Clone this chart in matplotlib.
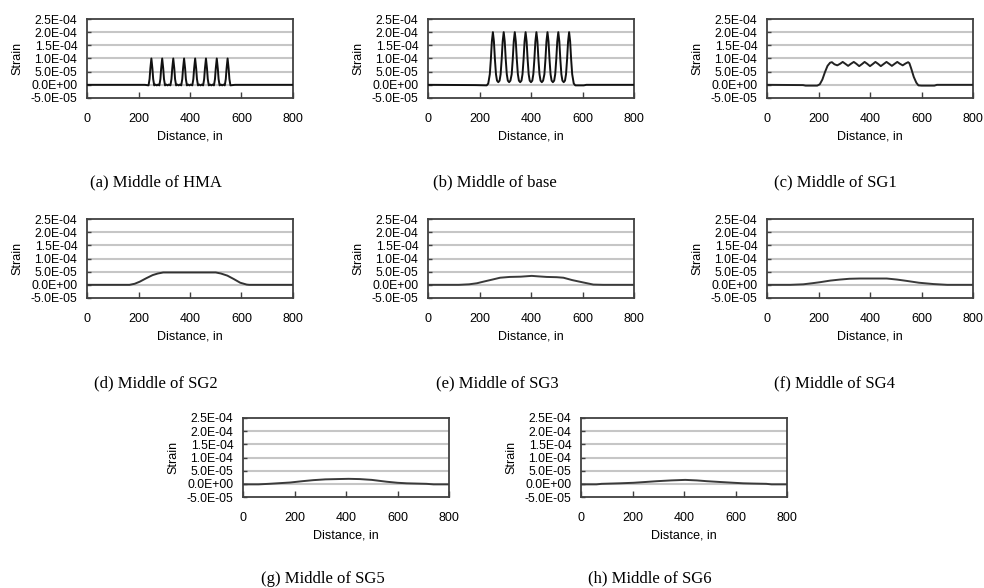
import matplotlib
matplotlib.use("Agg")
import matplotlib.pyplot as plt

# ---------------- data (strain in microstrain, distance in inches) ----------------
x_hma = [0, 225, 232,
         239, 243, 246, 250, 254, 257, 261, 266, 271, 276,
         281, 285, 288, 292, 296, 299, 303, 308, 313, 318,
         324, 328, 331, 335, 339, 342, 346, 351, 356, 361,
         366, 370, 373, 377, 381, 384, 388, 393, 398, 403,
         409, 413, 416, 420, 424, 427, 431, 436, 441, 446,
         451, 455, 458, 462, 466, 469, 473, 478, 483, 488,
         493, 497, 500, 504, 508, 511, 515, 520, 525, 530,
         535, 539, 542, 546, 550, 553, 557, 565, 575, 800]
y_hma = [0, 0, -1,
         -2, 22, 62, 100, 62, 22, -2, 1, -2, 1,
         -2, 22, 62, 100, 62, 22, -2, 1, -2, 1,
         -2, 22, 62, 100, 62, 22, -2, 1, -2, 1,
         -2, 22, 62, 100, 62, 22, -2, 1, -2, 1,
         -2, 22, 62, 100, 62, 22, -2, 1, -2, 1,
         -2, 22, 62, 100, 62, 22, -2, 1, -2, 1,
         -2, 22, 62, 100, 62, 22, -2, 1, -2, 1,
         -2, 22, 62, 100, 62, 22, -2, -1, 0, 0]

x_base = [0, 185, 228, 234,
          240, 244, 248, 252, 256, 260, 264, 268, 273, 278,
          282, 286, 290, 294, 298, 302, 306, 310, 315, 320,
          325, 329, 333, 337, 341, 345, 349, 353, 358, 363,
          367, 371, 375, 379, 383, 387, 391, 395, 400, 405,
          409, 413, 417, 421, 425, 429, 433, 437, 442, 447,
          452, 456, 460, 464, 468, 472, 476, 480, 485, 490,
          494, 498, 502, 506, 510, 514, 518, 522, 527, 532,
          536, 540, 544, 548, 552, 556, 560, 566, 572, 605, 615, 800]
y_base = [0, -1, -2, 5,
          40, 95, 165, 200, 165, 95, 40, 16, 10, 16,
          40, 95, 165, 200, 165, 95, 40, 16, 10, 16,
          40, 95, 165, 200, 165, 95, 40, 16, 10, 16,
          40, 95, 165, 200, 165, 95, 40, 16, 10, 16,
          40, 95, 165, 200, 165, 95, 40, 16, 10, 16,
          40, 95, 165, 200, 165, 95, 40, 16, 10, 16,
          40, 95, 165, 200, 165, 95, 40, 16, 10, 16,
          40, 95, 165, 200, 165, 95, 40, 5, -2, -2, 0, 0]

x_sg1 = [0, 140, 150, 195, 205, 215, 225, 235, 245, 252, 262, 273, 284, 294, 304,
         315, 326, 337, 347, 358, 369, 379, 389, 400, 411, 421, 431, 442, 453, 464,
         474, 485, 496, 506, 516, 527, 538, 548, 553, 560, 570, 580, 588, 600, 650, 660, 800]
y_sg1 = [0, -1, -3, -3, 2, 20, 48, 72, 84, 86, 78, 74, 80, 87, 80,
         72, 80, 87, 80, 71, 79, 87, 80, 71, 79, 87, 80, 71, 79, 87,
         80, 72, 80, 87, 80, 74, 81, 86, 82, 62, 30, 8, -2, -3, -3, 0, 0]

x_sg2 = [0, 165, 185, 205, 230, 255, 275, 296, 500, 520, 545, 570, 595, 620, 630, 800]
y_sg2 = [0, 0, 4, 12, 25, 37, 43, 47, 47, 43, 35, 22, 8, 1, 0, 0]

x_sg3 = [0, 120, 160, 190, 215, 250, 280, 317, 360, 403, 430, 461, 500, 526, 560, 603, 642, 680, 800]
y_sg3 = [0, 0, 2, 6, 12, 20, 27, 30, 31, 34, 32, 30, 29, 27, 18, 9, 1, 0, 0]

x_sg4 = [0, 90, 141, 175, 206, 245, 283, 320, 361, 420, 465, 505, 542, 590, 646, 700, 800]
y_sg4 = [0, 0, 2, 6, 10, 16, 20, 23, 24, 24, 24, 20, 15, 8, 3, 0, 0]

x_sg5 = [0, 60, 100, 183, 230, 273, 320, 364, 410, 454, 500, 558, 600, 636, 713, 740, 800]
y_sg5 = [-2, -2, 0, 5, 10, 14, 17, 18, 19, 18, 15, 8, 4, 2, 0, -2, -2]

x_sg6 = [0, 60, 80, 150, 204, 250, 294, 350, 405, 450, 489, 540, 593, 630, 670, 720, 740, 800]
y_sg6 = [-2, -2, 0, 2, 4, 7, 10, 13, 15, 13, 10, 7, 4, 2, 1, 0, -2, -2]

captions = ["(a) Middle of HMA", "(b) Middle of base", "(c) Middle of SG1",
            "(d) Middle of SG2", "(e) Middle of SG3", "(f) Middle of SG4",
            "(g) Middle of SG5", "(h) Middle of SG6"]
series = [(x_hma, y_hma), (x_base, y_base), (x_sg1, y_sg1), (x_sg2, y_sg2),
          (x_sg3, y_sg3), (x_sg4, y_sg4), (x_sg5, y_sg5), (x_sg6, y_sg6)]

ytick_values = [-5e-5, 0.0, 5e-5, 1e-4, 1.5e-4, 2e-4, 2.5e-4]
ytick_labels = ["-5.0E-05", "0.0E+00", "5.0E-05", "1.0E-04", "1.5E-04", "2.0E-04", "2.5E-04"]
xtick_values = [0, 200, 400, 600, 800]
xtick_labels = ["0", "200", "400", "600", "800"]
MICRO = 1e-6

# ---------------- layout (pixel boxes of axes) ----------------
W, H = 984, 588
axes_px = [  # left, top, right, bottom
    (87, 19, 293, 98), (428, 19, 634, 98), (767, 19, 973, 98),
    (87, 219, 293, 298), (428, 219, 634, 298), (767, 219, 973, 298),
    (243, 418, 449, 497), (581, 418, 787, 497),
]
caption_px = [(156, 182), (495, 182), (835, 182),
              (156, 383), (497, 383), (835, 383),
              (323, 579), (650, 578)]
line_colors = ["#111111", "#111111", "#222222", "#333333", "#3a3a3a", "#3a3a3a", "#3a3a3a", "#3a3a3a"]

fig = plt.figure(figsize=(W / 100, H / 100), dpi=100)
sans = "Liberation Sans"
serif = "Liberation Serif"

for i, ((l, t, r, b), (xs, ys)) in enumerate(zip(axes_px, series)):
    ax = fig.add_axes([l / W, 1 - b / H, (r - l) / W, (b - t) / H])
    ax.set_xlim(0, 800)
    ax.set_ylim(-5e-5, 2.5e-4)
    for yv in ytick_values[1:-1]:
        ax.axhline(yv, color="#c6c6c6", lw=1.5, zorder=1)
    ax.plot(xs, [v * MICRO for v in ys], color=line_colors[i], lw=1.4, zorder=3)
    ax.set_yticks(ytick_values)
    ax.set_yticklabels(ytick_labels, fontfamily=sans, fontsize=8.8)
    ax.set_xticks(xtick_values)
    ax.set_xticklabels(xtick_labels, fontfamily=sans, fontsize=9)
    ax.tick_params(axis="y", direction="in", length=3, width=1, color="#404040", pad=7)
    ax.tick_params(axis="x", direction="in", length=4, width=1, color="#404040", pad=11)
    for s in ax.spines.values():
        s.set_color("#404040")
        s.set_linewidth(1.3)
    ax.set_xlabel("Distance, in", fontfamily=sans, fontsize=9, labelpad=4)
    ax.set_ylabel("Strain", fontfamily=sans, fontsize=9, labelpad=5)
    cx, cy = caption_px[i]
    fig.text(cx / W, 1 - cy / H, captions[i], ha="center", va="center",
             fontfamily=serif, fontsize=12)

fig.savefig("out.png", dpi=100)
